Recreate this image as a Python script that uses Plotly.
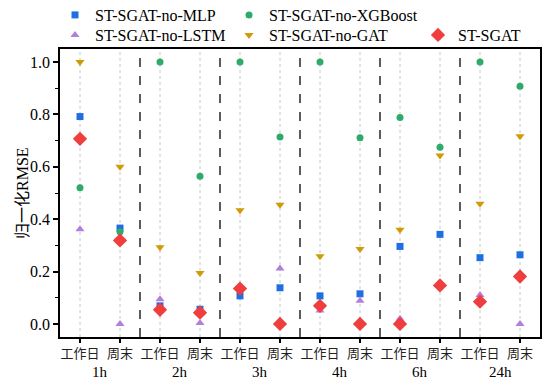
import plotly.graph_objects as go

categories = ["工作日", "周末"] * 6
groups = ["1h", "2h", "3h", "4h", "6h", "24h"]
ytick_vals = [0.0, 0.2, 0.4, 0.6, 0.8, 1.0]

no_mlp =     [0.792, 0.366, 0.069, 0.056, 0.107, 0.138, 0.107, 0.115, 0.296, 0.342, 0.253, 0.264]
no_xgboost = [0.520, 0.352, 1.000, 0.564, 1.000, 0.714, 1.000, 0.711, 0.788, 0.675, 1.000, 0.908]
no_lstm =    [0.362, 0.000, 0.094, 0.003, 0.135, 0.212, 0.051, 0.088, 0.020, 0.147, 0.110, 0.000]
no_gat =     [1.000, 0.600, 0.293, 0.194, 0.434, 0.455, 0.258, 0.286, 0.360, 0.643, 0.459, 0.717]
st_sgat =    [0.707, 0.319, 0.054, 0.043, 0.135, 0.000, 0.069, 0.000, 0.000, 0.147, 0.085, 0.181]

xs = list(range(len(categories)))

PW, PH = 480.0, 288.0
def px2paper(xp, yp):
    return (xp - 60) / PW, (337 - yp) / PH

# name, values, symbol, colour, size, legend id, legend marker pixel position
series = [
    ("ST-SGAT-no-MLP", no_mlp, "square", "#1f6fe0", 7, "legend", (76, 15)),
    ("ST-SGAT-no-XGBoost", no_xgboost, "circle", "#2eaa6b", 7, "legend2", (250, 15)),
    ("ST-SGAT-no-LSTM", no_lstm, "triangle-up", "#b27fdc", 8, "legend3", (76, 35)),
    ("ST-SGAT-no-GAT", no_gat, "triangle-down", "#cf9c05", 8, "legend4", (250, 35)),
    ("ST-SGAT", st_sgat, "diamond", "#f03e3e", 11, "legend5", (439, 35)),
]

SERIF = "Liberation Serif"
fig = go.Figure()
legends = {}
legfont = dict(family=SERIF, size=16, color="black")
for name, vals, sym, col, size, lg, (mx, my) in series:
    fig.add_trace(go.Scatter(
        x=xs, y=vals, mode="markers", name=name, legend=lg, showlegend=True,
        marker=dict(symbol=sym, color=col, size=size, line=dict(width=0)),
    ))
    lx, ly = px2paper(mx - 21, my)
    legends[lg] = dict(x=lx, y=ly, xref="paper", yref="paper", xanchor="left", yanchor="middle",
                       orientation="v", font=legfont, bgcolor="rgba(0,0,0,0)",
                       itemwidth=30, borderwidth=0, visible=True)

shapes = []
for i in xs:
    shapes.append(dict(type="line", xref="x", yref="paper", x0=i, x1=i, y0=0, y1=1,
                       line=dict(color="#c8c8c8", width=1, dash="dot"), layer="below"))
for k in range(1, len(groups)):
    xv = 2 * k - 0.5
    shapes.append(dict(type="line", xref="x", yref="paper", x0=xv, x1=xv, y0=0, y1=1,
                       line=dict(color="#333333", width=1.6, dash="dash"), layer="below"))

annotations = []
_, gy = px2paper(0, 372)
for k, g in enumerate(groups):
    annotations.append(dict(x=2 * k + 0.5, y=gy, xref="x", yref="paper", text=g,
                            showarrow=False, yanchor="middle",
                            font=dict(family=SERIF, size=15, color="black")))
tx, ty = px2paper(22, 193)
annotations.append(dict(x=tx, y=ty, xref="paper", yref="paper", text="归一化RMSE", textangle=-90,
                        showarrow=False, xanchor="center", yanchor="middle",
                        font=dict(family=SERIF + ", Noto Sans CJK SC", size=16, color="black")))

fig.update_layout(
    width=545, height=383,
    showlegend=True,
    margin=dict(l=60, r=5, t=49, b=46, autoexpand=False),
    plot_bgcolor="white", paper_bgcolor="white",
    shapes=shapes, annotations=annotations,
    **legends,
    xaxis=dict(range=[-0.5, 11.5], tickvals=xs, ticktext=categories,
               tickfont=dict(family="Noto Sans CJK SC", size=13, color="#222222"),
               ticks="outside", ticklen=4, tickwidth=1.5, tickcolor="black",
               showline=True, linecolor="black", linewidth=1.5, mirror=True,
               showgrid=False, zeroline=False),
    yaxis=dict(range=[-0.05, 1.05], tickvals=ytick_vals, ticktext=["0.0", "0.2", "0.4", "0.6", "0.8", "1.0"],
               tickfont=dict(family=SERIF, size=16, color="black"),
               ticks="outside", ticklen=5, tickwidth=1.5, tickcolor="black",
               minor=dict(tickvals=[0.1, 0.3, 0.5, 0.7, 0.9], ticks="outside", ticklen=3,
                          tickwidth=1, tickcolor="black"),
               showline=True, linecolor="black", linewidth=1.5, mirror=True,
               showgrid=False, zeroline=False),
)

fig.write_html("out.html")
